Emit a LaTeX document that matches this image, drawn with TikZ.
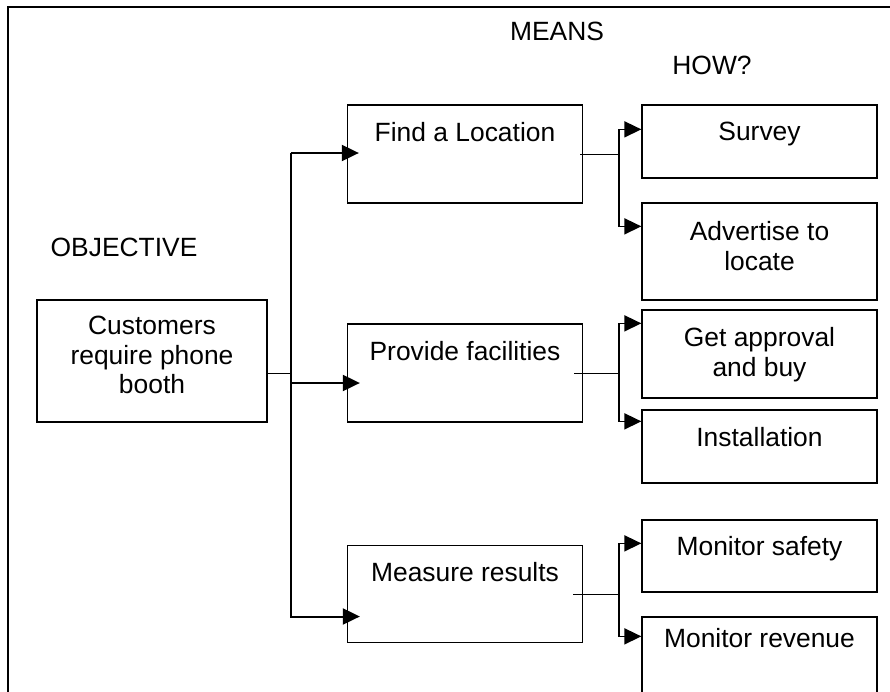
\documentclass[tikz,border=0pt]{standalone}
\usepackage{fontspec}
\setmainfont{Liberation Sans}
\usetikzlibrary{positioning,arrows.meta}

\begin{document}
\begin{tikzpicture}[x=1pt,y=-1pt,on grid,
    >={Triangle[length=17pt,width=16pt]},
    box/.style={draw,line width=1.3pt,minimum width=235pt},
    boxtext/.style={anchor=north,inner sep=0pt,align=center,font=\fontsize{26.4}{29.5}\selectfont},
    head/.style={inner sep=0pt,font=\fontsize{26.4}{29.5}\selectfont},
    trunk/.style={line width=2pt},
    branch/.style={line width=1.6pt},
    stub/.style={line width=1pt}]
  \path[use as bounding box] (0,0) rectangle (890,691);
  \clip (0,0) rectangle (890,691);

  % frame
  \draw[line width=2pt] (8,700) -- (8,7) -- (900,7);

  % headings
  \node[head] (means)     at (557,31)  {MEANS};
  \node[head] (how)       at (712,65)  {HOW?};
  \node[head] (objective) at (124,247) {OBJECTIVE};

  % boxes
  \node[box,minimum width=230pt,minimum height=122pt] (obj) at (152,361) {};
  \node[box,minimum height=98pt] (find) at (465,154) {};
  \node[box,minimum height=98pt] (prov) [below=219pt of find] {};
  \node[box,minimum height=97pt] (meas) [below=221pt of prov] {};

  \node[box,minimum height=73pt] (survey)  at (759.5,141.5) {};
  \node[box,minimum height=97pt] (advert)  [below=110pt of survey] {};
  \node[box,minimum height=88pt] (approv)  [below=102.5pt of advert] {};
  \node[box,minimum height=73pt] (install) [below=92.5pt of approv] {};
  \node[box,minimum height=72pt] (safety)  [below=109.5pt of install] {};
  \node[box,minimum height=83pt] (revenue) [below=102.5pt of safety] {};

  % texts
  \node[boxtext] (objtxt)     at ([yshift=-17pt]obj.north)     {Customers\\require phone\\booth};
  \node[boxtext] (findtxt)    at ([yshift=-18pt]find.north)    {Find a Location};
  \node[boxtext] (provtxt)    at ([yshift=-18pt]prov.north)    {Provide facilities};
  \node[boxtext] (meastxt)    at ([yshift=-17pt]meas.north)    {Measure results};
  \node[boxtext] (surveytxt)  at ([yshift=-18pt]survey.north)  {Survey};
  \node[boxtext] (adverttxt)  at ([yshift=-19pt]advert.north)  {Advertise to\\locate};
  \node[boxtext] (approvtxt)  at ([yshift=-18pt]approv.north)  {Get approval\\and buy};
  \node[boxtext] (installtxt) at ([yshift=-18pt]install.north) {Installation};
  \node[boxtext] (safetytxt)  at ([yshift=-17pt]safety.north)  {Monitor safety};
  \node[boxtext] (revenuetxt) at ([yshift=-12pt]revenue.north) {Monitor revenue};

  % objective to means
  \coordinate (jn)     at ([xshift=23pt,yshift=-12pt]obj.east);
  \coordinate (findin) at ([xshift=12pt,yshift=1pt]find.west);
  \coordinate (provin) at ([xshift=13pt,yshift=-10pt]prov.west);
  \coordinate (measin) at ([xshift=13pt,yshift=-22.5pt]meas.west);
  \draw[stub] ([yshift=-12pt]obj.east) -- (jn);
  \draw[trunk,->] (findin -| jn) -- (findin);
  \draw[trunk,->] (findin -| jn) |- (measin);
  \draw[trunk,->] (provin -| jn) -- (provin);

  % means to how
  \coordinate (fb) at ([xshift=36pt]find.east);
  \coordinate (pb) at ([xshift=36pt]prov.east);
  \coordinate (mb) at ([xshift=36pt]meas.east);
  \coordinate (surveyin)  at ([yshift=-25pt]survey.north west);
  \coordinate (advertin)  at ([yshift=-24pt]advert.north west);
  \coordinate (approvin)  at ([yshift=-14pt]approv.north west);
  \coordinate (installin) at ([yshift=-12pt]install.north west);
  \coordinate (safetyin)  at ([yshift=-24pt]safety.north west);
  \coordinate (revenuein) at ([yshift=-20pt]revenue.north west);

  \draw[stub] ([xshift=-3pt]find.east) -- (fb);
  \draw[branch,->] (fb) |- (surveyin);
  \draw[branch,->] (fb) |- (advertin);
  \draw[stub] ([xshift=-9pt]prov.east) -- (pb);
  \draw[branch,->] (pb) |- (approvin);
  \draw[branch,->] (pb) |- (installin);
  \draw[stub] ([xshift=-10pt]meas.east) -- (mb);
  \draw[branch,->] (mb) |- (safetyin);
  \draw[branch,->] (mb) |- (revenuein);
\end{tikzpicture}
\end{document}
